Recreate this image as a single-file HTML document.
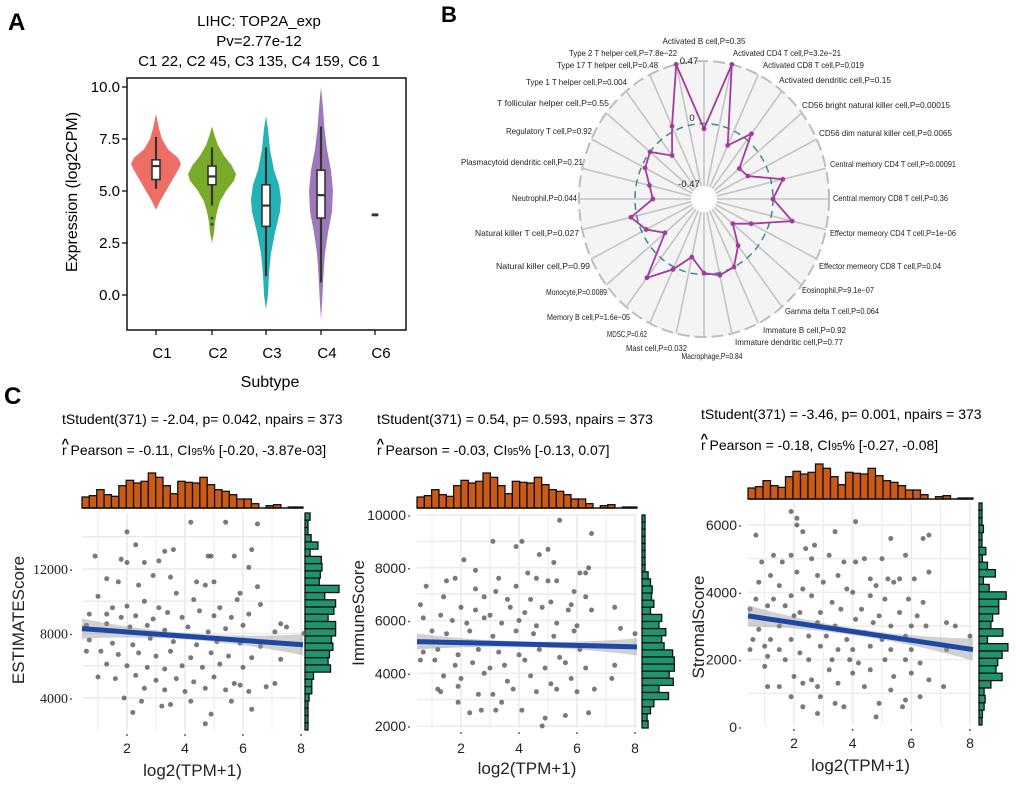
<!DOCTYPE html>
<html><head><meta charset="utf-8"><style>
html,body{margin:0;padding:0;background:#fff;}
svg{display:block;font-family:"Liberation Sans",Arial,sans-serif;}
</style></head><body>
<svg id="fig" width="1020" height="786" viewBox="0 0 1020 786">
<text x="8" y="30" font-size="24" font-weight="bold">A</text>
<text x="441" y="22" font-size="22" font-weight="bold">B</text>
<text x="4" y="404" font-size="24" font-weight="bold">C</text>
<g id="pa"></g>
<g id="pb"></g>
<g id="pc"></g>
</svg>
<script>
// ---------- Panel A data ----------
const vGroups = ['C1','C2','C3','C4','C6'];
const vColors = ['#ee6e66','#7aaa2a','#22b3b8','#9d78bb','#555'];
const vProfiles = [
 [[4.1,0],[4.5,4],[5.0,10],[5.5,16],[6.0,22],[6.3,25],[6.6,22],[7.0,12],[7.5,6],[8.0,3],[8.7,0]],
 [[2.5,0],[3.0,2],[3.5,3],[4.0,5],[4.5,8],[5.0,14],[5.5,22],[5.8,24],[6.2,20],[6.7,12],[7.2,6],[7.6,3],[8.1,0]],
 [[-0.7,0],[0,2],[1,3],[2,5],[3,9],[4,14],[4.6,15],[5.3,13],[6,8],[7,4],[8,2],[8.6,0]],
 [[-1.2,0],[0,1.5],[1,2.5],[2,4],[3,7],[4,11],[5,12],[6,10],[7,6],[8,3.5],[9,2],[10,0]],
 []
];
const vQ1 = [5.55,5.3,3.3,3.7,3.85];
const vMed = [6.2,5.7,4.3,4.8,3.85];
const vQ3 = [6.5,6.2,5.3,6.0,3.85];
const vLo = [5.1,4.3,0.9,0.6,3.85];
const vHi = [7.6,7.1,7.1,8.1,3.85];
const vOut = [[],[3.7,3.4],[],[],[]];
const vTicks = [0,2.5,5,7.5,10];

// ---------- Panel B data ----------
const rCells = ['Activated B cell,P=0.35','Activated CD4 T cell,P=3.2e\u221221','Activated CD8 T cell,P=0.019','Activated dendritic cell,P=0.15','CD56 bright natural killer cell,P=0.00015','CD56 dim natural killer cell,P=0.0065','Central memory CD4 T cell,P=0.00091','Central memory CD8 T cell,P=0.36','Effector memeory CD4 T cell,P=1e\u221206','Effector memeory CD8 T cell,P=0.04','Eosinophil,P=9.1e\u221207','Gamma delta T cell,P=0.064','Immature  B cell,P=0.92','Immature dendritic cell,P=0.77','Macrophage,P=0.84','Mast cell,P=0.032','MDSC,P=0.62','Memory B cell,P=1.6e\u221205','Monocyte,P=0.0089','Natural killer cell,P=0.99','Natural killer T cell,P=0.027','Neutrophil,P=0.044','Plasmacytoid dendritic cell,P=0.21','Regulatory T cell,P=0.92','T follicular helper cell,P=0.55','Type 1 T helper cell,P=0.004','Type 17 T helper cell,P=0.48','Type 2 T helper cell,P=7.8e\u221222'];
const rValues = [-0.04,0.47,-0.12,0.06,-0.20,-0.17,0.10,0.0,0.18,-0.14,-0.27,-0.12,0.0,0.02,-0.01,-0.12,0.02,0.19,-0.16,-0.04,0.05,-0.15,-0.11,-0.03,0.0,-0.15,0.04,0.47];
const rRingLabels = ['0.47','0','-0.47'];

// ---------- Panel C data ----------
const topHist = [33,37,55,40,35,67,83,75,80,105,92,67,43,80,77,75,92,70,55,50,40,27,27,13,0,7,10,0,3,3];
const rightHist1 = [15,5,3,18,38,15,48,50,45,42,100,58,90,85,68,90,90,78,82,72,68,75,25,20,20,12,8,5,5,3];
const rightHist2 = [5,5,5,5,5,5,5,8,18,25,30,28,35,25,58,50,70,58,65,90,95,95,80,92,50,78,35,25,15,18];
const rightHist3 = [8,3,3,13,8,3,20,10,25,48,13,30,80,58,58,40,35,70,25,85,68,55,50,68,35,15,18,15,10,3];
const est = [[0.9,12.8],[2.0,14.3],[2.3,13.5],[4.2,14.9],[5.4,14.9],[6.5,14.8],[3.3,13.1],[3.6,13.2],[4.9,12.8],[5.7,12.8],[6.3,13.2],[1.8,12.6],[2.0,12.4],[2.6,12.4],[3.1,12.5],[4.8,12.8],[6.2,12.1],[1.3,11.4],[1.7,11.2],[2.4,11.0],[2.9,11.6],[3.5,11.5],[4.4,11.2],[4.7,11.0],[5.0,11.2],[5.9,10.5],[6.5,10.9],[1.0,10.3],[1.5,9.6],[2.0,9.7],[2.6,10.0],[3.1,9.6],[3.7,10.5],[4.3,10.1],[5.2,9.6],[5.8,10.1],[6.6,9.8],[0.7,9.2],[1.3,9.2],[1.8,9.0],[2.3,9.1],[2.9,8.9],[3.4,9.3],[3.9,9.0],[4.5,9.4],[5.0,9.1],[5.6,9.0],[6.2,9.2],[0.6,8.5],[1.3,8.6],[2.1,8.4],[2.7,8.5],[3.3,8.2],[4.1,8.4],[4.8,8.1],[5.4,8.3],[6.0,8.5],[7.3,8.6],[7.5,8.4],[8.1,8.0],[7.1,8.1],[0.7,7.6],[1.5,7.4],[2.2,7.3],[2.8,7.7],[3.6,7.5],[4.4,7.3],[5.1,7.5],[5.9,7.4],[6.6,7.2],[0.6,6.9],[1.1,6.9],[1.7,6.7],[2.4,6.8],[3.0,6.6],[3.5,6.9],[4.2,6.5],[4.9,6.8],[5.5,6.6],[6.3,6.5],[7.3,6.4],[1.3,6.1],[2.0,6.0],[2.7,5.9],[3.3,5.8],[3.9,6.0],[4.6,5.9],[5.2,6.1],[6.0,5.9],[1.0,5.3],[1.6,5.2],[2.3,5.4],[3.0,5.1],[3.7,5.2],[4.3,5.0],[5.0,5.3],[5.7,4.9],[6.8,4.7],[7.1,4.9],[2.6,4.6],[3.3,4.5],[4.0,4.4],[4.7,4.6],[5.4,4.5],[6.2,4.4],[1.9,4.0],[2.5,3.8],[3.2,3.5],[3.5,3.6],[4.2,3.8],[5.6,3.8],[6.3,3.3],[2.2,3.1],[4.9,3.0],[4.7,2.4],[5.9,4.8]];
const imm = [[5.4,9.8],[6.5,9.3],[3.1,9.0],[4.1,9.0],[5.0,8.7],[3.9,8.8],[4.7,8.5],[2.1,8.3],[5.2,8.2],[6.4,8.0],[2.5,7.9],[4.3,7.8],[6.1,7.8],[6.3,7.8],[1.8,7.6],[3.3,7.6],[5.0,7.5],[5.3,7.5],[0.8,7.3],[1.5,7.5],[2.5,7.2],[3.2,7.1],[3.9,7.3],[4.6,7.6],[5.9,7.1],[1.4,6.9],[2.8,6.9],[3.6,6.8],[4.4,6.8],[5.1,6.7],[5.8,6.6],[6.3,6.9],[0.6,6.6],[1.3,6.2],[2.0,6.5],[2.5,6.4],[3.0,6.2],[3.7,6.5],[4.2,6.3],[4.8,6.5],[5.7,6.4],[6.5,6.4],[7.3,6.5],[0.7,6.1],[1.7,6.0],[2.2,5.9],[2.8,6.1],[3.4,5.9],[4.0,6.0],[4.6,5.8],[5.3,5.9],[6.0,5.8],[1.0,5.6],[1.5,5.5],[2.3,5.6],[3.1,5.4],[3.9,5.6],[4.5,5.5],[5.2,5.4],[5.9,5.6],[7.5,5.7],[8.0,5.5],[0.7,4.8],[1.2,4.9],[1.9,4.7],[2.6,4.9],[3.3,4.8],[4.0,4.7],[4.7,4.9],[5.4,4.6],[6.1,4.9],[0.6,4.5],[1.1,4.5],[1.8,4.3],[2.4,4.4],[3.0,4.2],[3.5,4.3],[4.2,4.5],[4.9,4.2],[5.6,4.4],[6.3,4.2],[7.3,4.3],[1.4,3.9],[2.0,3.8],[2.8,4.0],[3.6,3.7],[4.4,3.9],[5.1,3.6],[5.8,3.8],[7.2,3.8],[1.2,3.4],[1.9,3.5],[2.6,3.2],[3.1,3.2],[3.8,3.4],[4.6,3.3],[5.3,3.4],[6.0,3.3],[6.6,3.4],[1.3,3.3],[1.9,2.9],[2.3,2.5],[3.2,2.6],[3.4,2.9],[4.1,2.6],[5.6,2.4],[6.4,2.5],[4.8,2.0],[4.9,2.3],[2.7,2.6]];
const str = [[1.9,6.4],[2.1,6.2],[2.1,6.0],[4.1,6.1],[0.7,5.7],[2.3,5.8],[3.4,5.8],[6.4,5.6],[6.6,5.7],[5.3,5.6],[2.7,5.4],[2.4,5.3],[1.9,5.1],[1.3,5.1],[2.6,5.0],[3.2,5.1],[4.4,5.0],[5.0,5.0],[5.8,5.1],[3.7,4.9],[4.1,4.9],[6.6,4.6],[0.9,4.9],[1.6,4.9],[2.1,4.6],[2.8,4.5],[3.5,4.5],[4.6,4.4],[5.2,4.4],[5.6,4.4],[6.1,4.4],[1.2,4.5],[0.8,4.3],[1.5,4.2],[2.3,4.1],[3.0,4.3],[3.8,4.1],[4.8,4.2],[5.4,4.3],[0.7,3.8],[1.3,3.8],[1.9,3.9],[2.6,3.9],[3.3,3.7],[4.0,4.0],[4.6,3.9],[5.1,3.8],[5.9,3.8],[6.4,3.7],[0.5,3.5],[1.1,3.6],[1.7,3.6],[2.2,3.4],[2.9,3.4],[3.6,3.5],[4.3,3.5],[4.9,3.3],[5.6,3.4],[6.2,3.3],[7.2,3.1],[7.5,3.0],[0.8,2.9],[1.5,3.0],[2.0,3.3],[2.8,3.1],[3.4,3.0],[4.1,3.2],[4.7,3.1],[5.3,3.0],[6.0,3.0],[6.5,3.0],[0.6,2.6],[1.2,2.6],[1.9,2.6],[2.5,2.7],[3.1,2.7],[3.8,2.6],[4.4,2.8],[5.0,2.6],[5.8,2.7],[8.0,2.7],[0.5,2.3],[1.0,2.4],[1.5,2.3],[2.2,2.2],[2.9,2.4],[3.5,2.3],[4.0,2.3],[4.6,2.4],[5.3,2.3],[6.0,2.3],[7.2,2.3],[1.1,2.1],[1.7,2.0],[2.5,2.0],[3.3,2.0],[3.9,2.0],[4.2,1.9],[5.1,2.0],[5.8,2.0],[6.3,1.9],[1.0,1.8],[2.0,1.5],[2.6,1.4],[3.2,1.7],[4.0,1.6],[4.6,1.7],[5.4,1.5],[6.0,1.6],[6.6,1.4],[1.1,1.2],[1.5,1.2],[2.3,1.3],[2.8,1.2],[3.5,1.3],[4.4,1.2],[5.3,1.1],[7.1,1.2],[1.9,0.9],[2.3,0.6],[2.9,0.9],[3.4,0.7],[4.9,0.7],[5.8,0.8],[6.3,0.9],[2.8,0.4],[4.8,0.3],[3.7,0.6],[5.7,0.6]];
const fitStart = [8.3,5.2,3.3];
const fitEnd = [7.3,5.0,2.3];
const yTicks1 = [4,8,12];
const yTicks2 = [2,4,6,8,10];
const yTicks3 = [0,2,4,6];
const xTicks = [2,4,6,8];

const NS='http://www.w3.org/2000/svg';
function mk(tag, attrs, parent, name, inter){
  const el=document.createElementNS(NS,tag);
  for(const k in attrs) el.setAttribute(k,attrs[k]);
  
  
  parent.appendChild(el);
  return el;
}
function txt(s, attrs, parent, name){ const t=mk('text',attrs,parent,name,false); t.textContent=s; return t; }

// ---------- Panel A ----------
(function(){
  const g=document.getElementById('pa');
  const L=127,R=406,T=78,B=330;
  const yS=v=>295-v*20.8;
  const xS=[156,212,266,321,375];
  txt('LIHC: TOP2A_exp',{x:259,y:26,'font-size':15,'text-anchor':'middle'},g,'chart-title');
  txt('Pv=2.77e-12',{x:259,y:46,'font-size':15,'text-anchor':'middle'},g,'p-value-subtitle');
  txt('C1 22, C2 45, C3 135, C4 159, C6 1',{x:259,y:66,'font-size':15,'text-anchor':'middle'},g,'group-counts-subtitle');
  vGroups.forEach((grp,i)=>{
    const prof=vProfiles[i], cx=xS[i];
    if(prof.length){
      let d='M'+cx+','+yS(prof[0][0]);
      prof.forEach(p=>{d+=' L'+(cx+p[1])+','+yS(p[0]);});
      for(let j=prof.length-1;j>=0;j--) d+=' L'+(cx-prof[j][1])+','+yS(prof[j][0]);
      d+='Z';
      mk('path',{d:d,fill:vColors[i],stroke:'none'},g,'violin-'+grp.toLowerCase(),false);
      mk('line',{x1:cx,x2:cx,y1:yS(vLo[i]),y2:yS(vHi[i]),stroke:'#333','stroke-width':2.2},g,'whisker-'+grp.toLowerCase(),false);
      mk('rect',{x:cx-4,y:yS(vQ3[i]),width:8,height:yS(vQ1[i])-yS(vQ3[i]),fill:'#fff',stroke:'#333','stroke-width':1.6},g,'box-'+grp.toLowerCase(),false);
      mk('line',{x1:cx-4,x2:cx+4,y1:yS(vMed[i]),y2:yS(vMed[i]),stroke:'#333','stroke-width':2.2},g,'median-'+grp.toLowerCase(),false);
      vOut[i].forEach(o=>{ mk('circle',{cx:cx,cy:yS(o),r:1.3,fill:'#333'},g,'outlier-'+grp.toLowerCase(),false); });
    } else {
      mk('rect',{x:cx-3.5,y:yS(vMed[i])-1.5,width:7,height:3,rx:1.5,fill:'#333'},g,'point-'+grp.toLowerCase(),false);
    }
    mk('line',{x1:cx,x2:cx,y1:B,y2:B+5,stroke:'#000','stroke-width':1.2},g,'x-tick',false);
    txt(grp,{x:cx+6,y:358,'font-size':15,'text-anchor':'middle'},g,'x-tick-label');
  });
  mk('rect',{x:L,y:T,width:R-L,height:B-T,fill:'none',stroke:'#000','stroke-width':1.4},g,'plot-frame',false);
  vTicks.forEach(v=>{
    mk('line',{x1:L-5,x2:L,y1:yS(v),y2:yS(v),stroke:'#000','stroke-width':1.2},g,'y-tick',false);
    txt(v.toFixed(1),{x:L-7,y:yS(v)+5,'font-size':15,'text-anchor':'end'},g,'y-tick-label');
  });
  txt('Subtype',{x:270,y:387,'font-size':16,'text-anchor':'middle'},g,'x-axis-title');
  txt('Expression (log2CPM)',{x:0,y:0,'font-size':16,'text-anchor':'middle',transform:'translate(77,192) rotate(-90)'},g,'y-axis-title');
})();

// ---------- Panel B ----------
(function(){
  const g=document.getElementById('pb');
  const cx=704, cy=199, rIn=13, rx=125, ry=138;
  const frac=v=>(v+0.47)/0.94;
  const n=rCells.length;
  const ang=i=>i*2*Math.PI/n;
  const pt=(i,f)=>[cx+(rIn+f*(rx-rIn))*Math.sin(ang(i)), cy-(rIn+f*(ry-rIn))*Math.cos(ang(i))];
  mk('ellipse',{cx:cx,cy:cy,rx:rx,ry:ry,fill:'#f4f4f4',stroke:'#bdbdbd','stroke-width':2,'stroke-dasharray':'12 5'},g,'radar-background',false);
  rCells.forEach((c,i)=>{
    const a=pt(i,0), b=pt(i,1);
    mk('line',{x1:a[0],y1:a[1],x2:b[0],y2:b[1],stroke:'#c4c4c4','stroke-width':1.6},g,'radar-spoke',false);
  });
  mk('ellipse',{cx:cx,cy:cy,rx:rIn,ry:rIn,fill:'#fff'},g,'radar-center',false);
  mk('ellipse',{cx:cx,cy:cy,rx:rIn+0.5*(rx-rIn),ry:rIn+0.5*(ry-rIn),fill:'none',stroke:'#3f8a8c','stroke-width':1.5,'stroke-dasharray':'7 5'},g,'zero-ring',false);
  let d='';
  rValues.forEach((v,i)=>{ const p=pt(i,frac(v)); d+=(i?'L':'M')+p[0].toFixed(1)+','+p[1].toFixed(1); });
  d+='Z';
  mk('path',{d:d,fill:'none',stroke:'#a23a9f','stroke-width':1.8},g,'correlation-line',false);
  rValues.forEach((v,i)=>{ const p=pt(i,frac(v)); mk('circle',{cx:p[0],cy:p[1],r:2.4,fill:'#a23a9f'},g,'correlation-point',false); });
  const ringPos=[[689,64],[692,121],[689,187]];
  rRingLabels.forEach((s,i)=>{
    txt(s,{x:ringPos[i][0],y:ringPos[i][1],'font-size':9.5,'text-anchor':'middle',fill:'#222'},g,'ring-label');
  });
  const labelPos=[[704,41,'middle'],[733,53,'start'],[763,65,'start'],[779,80,'start'],[802,105,'start'],[819,133,'start'],[830,164,'start'],[833,198,'start'],[830,233,'start'],[819,266,'start'],[802,290,'start'],[785,311,'start'],[763,330,'start'],[735,342,'start'],[712,356,'middle'],[687,348,'end'],[647,334,'end'],[630,317,'end'],[607,292,'end'],[590,266,'end'],[579,233,'end'],[577,198,'end'],[583,162,'end'],[592,131,'end'],[609,103,'end'],[627,82,'end'],[658,65,'end'],[677,53,'end']];
  rCells.forEach((c,i)=>{
    const p=labelPos[i];
    txt(c,{x:p[0],y:p[1]+3,'font-size':8.5,'text-anchor':p[2],fill:'#222',textLength:(c.length*3.6).toFixed(0),lengthAdjust:'spacingAndGlyphs'},g,'cell-label');
  });
})();

// ---------- Panel C ----------
(function(){
  const root=document.getElementById('pc');
  const panels=[
    {pts:est,rh:rightHist1,yt:yTicks1,ox:62,ty:424,L:82,R:303,T:513,B:730,x2:127,x8:301,yv0:4,yp0:698,yv1:12,yp1:569,hb:508,ht:35,rx:305,rscale:0.34,ytl:68,ttl:'ESTIMATEScore',tx:18,tyc:620,fmt:v=>(v*1000).toString(),serif:true,
     l1:'tStudent(371) = -2.04, p= 0.042, npairs = 373',l2a:'r Pearson = -0.11, CI',l2b:'% [-0.20, -3.87e-03]',xlab:776,xtk:753,name:'estimate'},
    {pts:imm,rh:rightHist2,yt:yTicks2,ox:377,ty:424,L:417,R:637,T:515,B:728,x2:461,x8:635,yv0:2,yp0:726,yv1:10,yp1:515,hb:508,ht:35,rx:642,rscale:0.34,ytl:406,ttl:'ImmuneScore',tx:358,tyc:613,fmt:v=>(v*1000).toString(),serif:false,
     l1:'tStudent(371) = 0.54, p= 0.593, npairs = 373',l2a:'r Pearson = -0.03, CI',l2b:'% [-0.13, 0.07]',xlab:774,xtk:753,name:'immune'},
    {pts:str,rh:rightHist3,yt:yTicks3,ox:701,ty:419,L:748,R:973,T:503,B:725,x2:794,x8:970,yv0:0,yp0:727,yv1:6,yp1:525,hb:499,ht:35,rx:979,rscale:0.34,ytl:737,ttl:'StromalScore',tx:698,tyc:627,fmt:v=>(v*1000).toString(),serif:false,
     l1:'tStudent(371) = -3.46, p= 0.001, npairs = 373',l2a:'r Pearson = -0.18, CI',l2b:'% [-0.27, -0.08]',xlab:771,xtk:748,name:'stromal'}
  ];
  panels.forEach((P,pi)=>{
    const g=mk('g',{},root,'scatter-panel-'+P.name,false);
    const xS=v=>P.x2+(v-2)*(P.x8-P.x2)/6;
    const yS=v=>P.yp0+(v-P.yv0)*(P.yp1-P.yp0)/(P.yv1-P.yv0);
    txt(P.l1,{x:P.ox,y:P.ty,'font-size':14},g,'stats-line');
    const t2=txt('',{x:P.ox,y:P.ty+31,'font-size':14},g,'pearson-line');
    const s1=mk('tspan',{},t2,'pearson-text',false); s1.textContent=P.l2a;
    const s2=mk('tspan',{'font-size':10},t2,'ci-subscript',false); s2.textContent='95';
    const s3=mk('tspan',{},t2,'ci-values',false); s3.textContent=P.l2b;
    txt('^',{x:P.ox-0.5,y:P.ty+24,'font-size':13,'font-weight':'bold'},g,'hat-symbol');
    mk('rect',{x:P.L,y:P.T,width:P.R-P.L,height:P.B-P.T,fill:'#fff'},g,'plot-area',false);
    const xmin=(P.L-P.x2)/((P.x8-P.x2)/6)+2, xmax=(P.R-P.x2)/((P.x8-P.x2)/6)+2;
    for(let v=1;v<=8;v++){ if(v<xmin||v>xmax) continue;
      mk('line',{x1:xS(v),x2:xS(v),y1:P.T,y2:P.B,stroke:'#ebebeb','stroke-width':v%2?1:1.6},g,'x-gridline',false); }
    const step=(P.yt[1]-P.yt[0])/2;
    for(let v=P.yt[0]-step*2; v<=P.yt[P.yt.length-1]+step*2; v+=step){
      const y=yS(v); if(y<P.T||y>P.B) continue;
      mk('line',{x1:P.L,x2:P.R,y1:y,y2:y,stroke:'#ebebeb','stroke-width':1.4},g,'y-gridline',false);
    }
    const bw=(P.R-P.L)/topHist.length, hmax=Math.max(...topHist);
    topHist.forEach((c,i)=>{ if(!c) return;
      const h=c/hmax*P.ht;
      mk('rect',{x:P.L+i*bw,y:P.hb-h,width:bw,height:h,fill:'#cc5a17',stroke:'#111','stroke-width':1.3},g,'x-histogram-bar',false);
    });
    mk('line',{x1:P.L,x2:P.R,y1:P.hb,y2:P.hb,stroke:'#111','stroke-width':1.5},g,'x-histogram-base',false);
    const bh=(P.B-P.T)/P.rh.length;
    P.rh.forEach((c,i)=>{
      const w=Math.max(3,c*P.rscale);
      mk('rect',{x:P.rx,y:P.T+i*bh,width:w,height:bh,fill:'#1f9470',stroke:'#111','stroke-width':1.3},g,'y-histogram-bar',false);
    });
    P.pts.forEach(p=>{ mk('circle',{cx:xS(p[0]).toFixed(1),cy:yS(p[1]).toFixed(1),r:2.5,fill:'#5e5656','fill-opacity':0.8},g,'data-point',false); });
    const xa=xmin, xb=xmax;
    const fy=x=>fitStart[pi]+(fitEnd[pi]-fitStart[pi])*(x-xa)/(xb-xa);
    const span=(P.yt[1]-P.yt[0]);
    const hw=x=>span*(0.05+0.12*Math.pow((x-4.2)/4,2));
    let d='';
    for(let k=0;k<=20;k++){ const x=xa+(xb-xa)*k/20; d+=(k?'L':'M')+xS(x).toFixed(1)+','+yS(fy(x)+hw(x)).toFixed(1); }
    for(let k=20;k>=0;k--){ const x=xa+(xb-xa)*k/20; d+='L'+xS(x).toFixed(1)+','+yS(fy(x)-hw(x)).toFixed(1); }
    mk('path',{d:d+'Z',fill:'#999','fill-opacity':0.45},g,'confidence-band',false);
    mk('line',{x1:xS(xa),y1:yS(fy(xa)),x2:xS(xb),y2:yS(fy(xb)),stroke:'#1d48a3','stroke-width':5},g,'regression-line',false);
    xTicks.forEach(v=>{
      mk('circle',{cx:xS(v),cy:P.B+5,r:0.9,fill:'#333'},g,'x-tick',false);
      txt(String(v),{x:xS(v),y:P.xtk,'font-size':14,'text-anchor':'middle',fill:'#222'},g,'x-tick-label');
    });
    P.yt.forEach(v=>{
      const attrs={x:P.ytl,y:yS(v)+5,'font-size':14,'text-anchor':'end',fill:'#222'};
      if(P.serif) attrs['font-family']='"Liberation Serif",serif';
      txt(P.fmt(v),attrs,g,'y-tick-label');
      mk('circle',{cx:P.ytl+3,cy:yS(v)+1,r:0.9,fill:'#333'},g,'y-tick',false);
    });
    txt('log2(TPM+1)',{x:(P.L+P.R)/2,y:P.xlab,'font-size':17,'text-anchor':'middle',fill:'#222'},g,'x-axis-title');
    txt(P.ttl,{x:0,y:0,'font-size':17,'text-anchor':'middle',fill:'#222',transform:'translate('+(P.tx+6)+','+P.tyc+') rotate(-90)'},g,'y-axis-title');
  });
})();
</script>
</body></html>
